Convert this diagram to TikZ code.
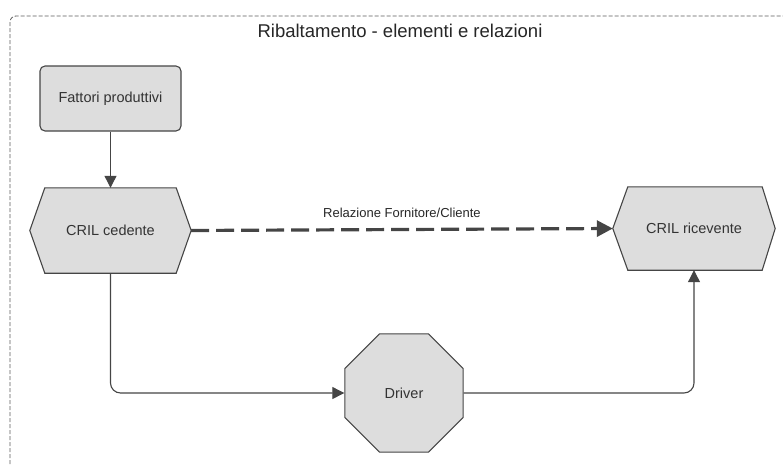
\documentclass[tikz,border=0pt]{standalone}
\usepackage{fontspec}
\setmainfont{Liberation Sans}
\usetikzlibrary{arrows.meta,shapes.geometric,backgrounds}
\definecolor{shapefill}{HTML}{DDDDDD}
\definecolor{shapeline}{HTML}{454545}
\definecolor{framecol}{HTML}{5A5A5A}
\tikzset{
  boxshape/.style={draw=shapeline, fill=shapefill, line width=1.1pt},
  nodefont/.style={font=\fontsize{14.5}{17}\selectfont, text=black!80},
  plainnode/.style={inner sep=0pt, nodefont},
  octnode/.style={boxshape, regular polygon, regular polygon sides=8, minimum size=128pt, inner sep=0pt, nodefont},
  conn/.style={draw=shapeline, line width=1.1pt, rounded corners=10pt, -{Triangle[length=12pt,width=12pt]}},
  dashconn/.style={draw=shapeline, line width=3.2pt, dash pattern=on 18pt off 7pt, -{Triangle[length=16pt,width=16pt]}},
}
\begin{document}
\begin{tikzpicture}[x=1pt,y=-1pt]
\useasboundingbox (0,0) rectangle (783,464);
% frame
\draw[framecol, line width=0.8pt, dash pattern=on 4pt off 2pt, rounded corners=6pt] (10,470) -- (10,16) -- (790,16);
\node[font=\fontsize{18.5}{22}\selectfont, text=black!85] (title) at (400,31) {Ribaltamento - elementi e relazioni};

% Fattori produttivi
\node[boxshape, rounded corners=5pt, minimum width=141pt, minimum height=65pt, inner sep=0pt, nodefont] (fat) at (110.5,98.5) {Fattori produttivi};

% CRIL cedente
\node[plainnode, minimum width=161pt, minimum height=85pt] (ced) at (110.5,230.5) {CRIL cedente};
\begin{scope}[on background layer]
\draw[boxshape] ([xshift=15pt]ced.north west) -- ([xshift=-15pt]ced.north east) -- (ced.east) -- ([xshift=-15pt]ced.south east) -- ([xshift=15pt]ced.south west) -- (ced.west) -- cycle;
\end{scope}

% CRIL ricevente
\node[plainnode, minimum width=162pt, minimum height=83pt] (ric) at (694,228.5) {CRIL ricevente};
\begin{scope}[on background layer]
\draw[boxshape] ([xshift=15pt]ric.north west) -- ([xshift=-13pt]ric.north east) -- (ric.east) -- ([xshift=-13pt]ric.south east) -- ([xshift=15pt]ric.south west) -- (ric.west) -- cycle;
\end{scope}

% Driver
\node[octnode] (drv) at (404,393) {Driver};

% connectors
\draw[conn] (fat.south) -- (ced.north);
\draw[dashconn] (ced.east) -- node[above=10pt, font=\fontsize{13}{15}\selectfont, text=black!85, inner sep=0pt] (rel) {Relazione Fornitore/Cliente} (ric.west);
\draw[conn] (ced.south) |- (drv.west);
\draw[conn] (drv.east) -| (ric.south);
\end{tikzpicture}
\end{document}
